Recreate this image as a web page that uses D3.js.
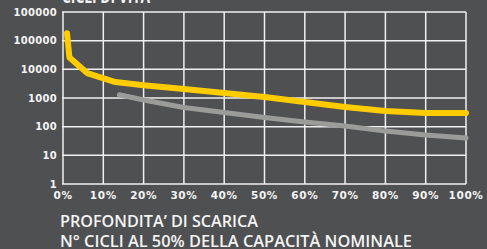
<!DOCTYPE html>
<html><head><meta charset="utf-8">
<script src="https://cdn.jsdelivr.net/npm/d3@7"></script>
<style>html,body{margin:0;padding:0;background:#4f5052;overflow:hidden}</style>
</head><body>
<script>
const xTicks = [0,10,20,30,40,50,60,70,80,90,100];
const xTickLabels = ["0%","10%","20%","30%","40%","50%","60%","70%","80%","90%","100%"];
const yTicks = [1,10,100,1000,10000,100000,1000000];
const yTickLabels = ["1","10","100","1000","10000","100000","100000"];
const yellowDepth = [1,1.6,6,13,20,30,40,50,60,70,80,90,100];
const yellowCycles = [180000,26000,7400,3600,2800,2050,1500,1080,720,485,350,300,300];
const grayDepth = [14,20,30,40,50,60,70,80,90,100];
const grayCycles = [1300,850,465,310,208,145,105,70,51,40];
const title = "CICLI DI VITA";
const xTitle = "PROFONDITA’ DI SCARICA";
const subTitle = "N° CICLI AL 50% DELLA CAPACITÀ NOMINALE";

const W=487,H=249;
const svg=d3.select("body").append("svg").attr("width",W).attr("height",H);
svg.append("rect").attr("width",W).attr("height",H).attr("fill","#4f5052");
const x=d3.scaleLinear().domain([0,100]).range([63,466]);
const y=d3.scaleLog().domain([1,1000000]).range([184,12]);
const grid="#f0f0f0";
svg.append("g").selectAll("line").data(xTicks).join("line")
 .attr("x1",d=>x(d)).attr("x2",d=>x(d)).attr("y1",y(1e6)).attr("y2",y(1))
 .attr("stroke",grid).attr("stroke-width",1.5);
svg.append("g").selectAll("line").data(yTicks).join("line")
 .attr("x1",x(0)-1).attr("x2",x(100)).attr("y1",d=>y(d)).attr("y2",d=>y(d))
 .attr("stroke",grid).attr("stroke-width",1.5);
svg.append("g").selectAll("text").data(yTicks).join("text")
 .attr("x",57).attr("y",d=>y(d)).attr("dy","0.36em").attr("text-anchor","end")
 .attr("fill","#f4f4f4").attr("font-family","DejaVu Sans").attr("font-weight","bold")
 .attr("font-size",10).attr("letter-spacing",0.3).text((d,i)=>yTickLabels[i]);
svg.append("g").selectAll("text").data(xTicks).join("text")
 .attr("x",d=>x(d)).attr("y",199).attr("text-anchor","middle")
 .attr("fill","#f4f4f4").attr("font-family","DejaVu Sans").attr("font-weight","bold")
 .attr("font-size",10.5).attr("letter-spacing",0.6).text((d,i)=>xTickLabels[i]);
const line=d3.line().x(d=>x(d[0])).y(d=>y(d[1])).curve(d3.curveLinear);
svg.append("path").datum(grayDepth.map((d,i)=>[d,grayCycles[i]])).attr("d",line)
 .attr("fill","none").attr("stroke","#9b9b99").attr("stroke-width",5).attr("stroke-linecap","round").attr("stroke-linejoin","round");
svg.append("path").datum(yellowDepth.map((d,i)=>[d,yellowCycles[i]])).attr("d",line)
 .attr("fill","none").attr("stroke","#ffcc00").attr("stroke-width",6).attr("stroke-linecap","round").attr("stroke-linejoin","round");
const tf="'Open Sans'";
svg.append("text").attr("x",62).attr("y",3).attr("fill","#f4f4f4").attr("font-family",tf)
 .attr("font-weight",700).attr("font-size",17).attr("textLength",88).attr("lengthAdjust","spacingAndGlyphs").text(title);
svg.append("text").attr("x",60).attr("y",227).attr("fill","#f4f4f4").attr("font-family",tf)
 .attr("font-weight",600).attr("font-size",17).attr("textLength",198).attr("lengthAdjust","spacingAndGlyphs").text(xTitle);
svg.append("text").attr("x",60).attr("y",247).attr("fill","#f4f4f4").attr("font-family",tf)
 .attr("font-weight",600).attr("font-size",16.5).attr("textLength",352).attr("lengthAdjust","spacingAndGlyphs").text(subTitle);
</script>
</body></html>
